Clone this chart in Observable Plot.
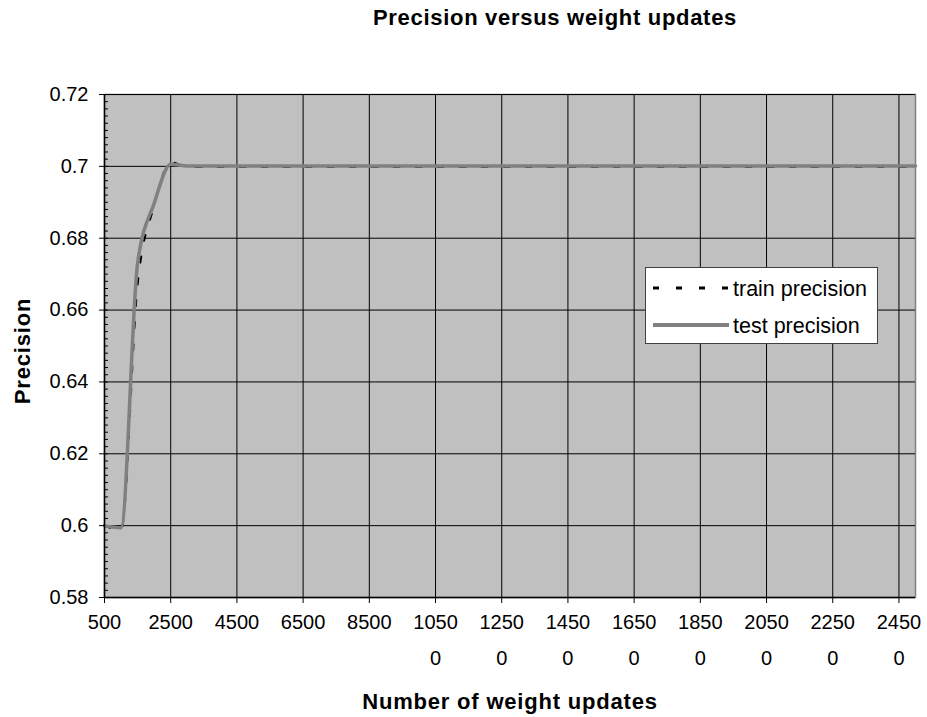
<!DOCTYPE html>
<html>
<head>
<meta charset="utf-8">
<script src="https://cdn.jsdelivr.net/npm/d3@7"></script>
<script src="https://cdn.jsdelivr.net/npm/@observablehq/plot@0.6"></script>
<style>
  body { margin: 0; background: #fff; font-family: Arial, "Liberation Sans", sans-serif; }
  #wrap { position: relative; width: 927px; height: 717px; }
  #title { height: 40px; position: relative; }
  #title span { position: absolute; left: 355px; width: 400px; top: 6px; text-align: center;
    font-size: 22px; line-height: 24px; font-weight: bold; letter-spacing: 0.7px; color: #000; white-space: nowrap; }
  #legend { position: absolute; left: 645px; top: 267px; width: 231px; height: 75px;
    background: #fff; border: 1px solid #404040; }
  #legend .row { position: absolute; left: 0; height: 30px; width: 231px; }
  #legend svg { position: absolute; left: 5px; top: 0; }
  #legend .lab { position: absolute; left: 87px; top: 2px; font-size: 21.5px; line-height: 24px; color: #000; white-space: nowrap; }
</style>
</head>
<body>
<div id="wrap">
  <div id="title"><span>Precision versus weight updates</span></div>
  <div id="chart"></div>
  <div id="legend"></div>
</div>
<script>
// ---- data ----
const updates = [500, 1000, 1500, 2000, 2500, 3000, 3500, 4000, 4500, 5000,
  5500, 6000, 6500, 7000, 7500, 8000, 8500, 9000, 9500, 10000,
  10500, 11000, 11500, 12000, 12500, 13000, 13500, 14000, 14500, 15000,
  15500, 16000, 16500, 17000, 17500, 18000, 18500, 19000, 19500, 20000,
  20500, 21000, 21500, 22000, 22500, 23000, 23500, 24000, 24500, 25000];
const trainPrecision = [0.6000, 0.5987, 0.6670, 0.6890, 0.7012, 0.6998, 0.6998, 0.6998, 0.6998, 0.6998,
  0.6998, 0.6998, 0.6998, 0.6998, 0.6998, 0.6998, 0.6998, 0.6998, 0.6998, 0.6998,
  0.6998, 0.6998, 0.6998, 0.6998, 0.6998, 0.6998, 0.6998, 0.6998, 0.6998, 0.6998,
  0.6998, 0.6998, 0.6998, 0.6998, 0.6998, 0.6998, 0.6998, 0.6998, 0.6998, 0.6998,
  0.6998, 0.6998, 0.6998, 0.6998, 0.6998, 0.6998, 0.6998, 0.6998, 0.6998, 0.6998];
const testPrecision = [0.6000, 0.5994, 0.6730, 0.6897, 0.7006, 0.7001, 0.7001, 0.7001, 0.7001, 0.7001,
  0.7001, 0.7001, 0.7001, 0.7001, 0.7001, 0.7001, 0.7001, 0.7001, 0.7001, 0.7001,
  0.7001, 0.7001, 0.7001, 0.7001, 0.7001, 0.7001, 0.7001, 0.7001, 0.7001, 0.7001,
  0.7001, 0.7001, 0.7001, 0.7001, 0.7001, 0.7001, 0.7001, 0.7001, 0.7001, 0.7001,
  0.7001, 0.7001, 0.7001, 0.7001, 0.7001, 0.7001, 0.7001, 0.7001, 0.7001, 0.7001];
const xTickValues = [500, 2500, 4500, 6500, 8500, 10500, 12500, 14500, 16500, 18500, 20500, 22500, 24500];
const xTickLabels = ["500", "2500", "4500", "6500", "8500", "1050\n0", "1250\n0", "1450\n0",
  "1650\n0", "1850\n0", "2050\n0", "2250\n0", "2450\n0"];
const yTickValues = [0.58, 0.6, 0.62, 0.64, 0.66, 0.68, 0.7, 0.72];
const seriesNames = ["train precision", "test precision"];

// ---- chart ----
const W = 927, H = 677;
const mL = 104, mR = 12, mT = 54, mB = 120;
const plotW = W - mL - mR;
const yMinor = d3.range(0, 71).map(i => +(0.58 + i * 0.002).toFixed(3));
const rows = updates.map((u, i) => ({u, train: trainPrecision[i], test: testPrecision[i]}));

const chart = Plot.plot({
  width: W, height: H,
  marginLeft: mL, marginRight: mR, marginTop: mT, marginBottom: mB,
  style: {fontFamily: "Arial, 'Liberation Sans', sans-serif", fontSize: "20px", color: "#000", background: "#fff"},
  x: {type: "linear", domain: [500, 25000]},
  y: {domain: [0.58, 0.72]},
  marks: [
    Plot.frame({fill: "#c0c0c0", stroke: "#808080", strokeWidth: 1.5}),
    Plot.gridX(xTickValues, {stroke: "#000", strokeOpacity: 1, strokeWidth: 1}),
    Plot.gridY(yTickValues, {stroke: "#000", strokeOpacity: 1, strokeWidth: 1}),
    Plot.tickY(yMinor, {y: d => d, stroke: "#000", strokeWidth: 1, insetRight: plotW - 4}),
    Plot.line(rows, {x: "u", y: "train", stroke: "#000", strokeWidth: 2, strokeDasharray: "6,16", curve: "monotone-x"}),
    Plot.line(rows, {x: "u", y: "test", stroke: "#808080", strokeWidth: 3.5, curve: "monotone-x"}),
    Plot.ruleX([500], {stroke: "#000", strokeWidth: 1.5}),
    Plot.ruleY([0.58], {stroke: "#000", strokeWidth: 1.5}),
    Plot.axisX(xTickValues, {
      tickFormat: d => xTickLabels[xTickValues.indexOf(d)],
      tickSize: 6, tickPadding: 0, fontSize: 20, lineHeight: 1.8, label: null, stroke: "#000"
    }),
    Plot.axisY(yTickValues, {
      tickFormat: d => String(d), tickSize: 5, tickPadding: 11, fontSize: 20, label: null, stroke: "#000"
    }),
    Plot.text(["Number of weight updates"], {
      frameAnchor: "bottom", dy: 111, fontSize: 22, fontWeight: "bold", fill: "#000"
    }),
    Plot.text(["Precision"], {
      frameAnchor: "left", textAnchor: "middle", lineAnchor: "middle", dx: -82, dy: 5, rotate: -90,
      fontSize: 22, fontWeight: "bold", fill: "#000"
    })
  ]
});
chart.querySelectorAll("text").forEach(t => {
  if (t.textContent === "Precision" || t.textContent === "Number of weight updates") {
    t.setAttribute("letter-spacing", "0.8");
  }
});
document.getElementById("chart").appendChild(chart);

// ---- legend ----
const legend = document.getElementById("legend");
const legendStyles = [
  {stroke: "#000", width: 3, dash: "6,17", top: 7},
  {stroke: "#808080", width: 4, dash: null, top: 44}
];
seriesNames.forEach((name, i) => {
  const s = legendStyles[i];
  const row = document.createElement("div");
  row.className = "row";
  row.style.top = s.top + "px";
  row.innerHTML = `<svg width="80" height="30"><line x1="2" x2="78" y1="13" y2="13" stroke="${s.stroke}" stroke-width="${s.width}" ${s.dash ? `stroke-dasharray="${s.dash}"` : ""} stroke-linecap="butt"/></svg><span class="lab">${name}</span>`;
  legend.appendChild(row);
});
</script>
</body>
</html>
